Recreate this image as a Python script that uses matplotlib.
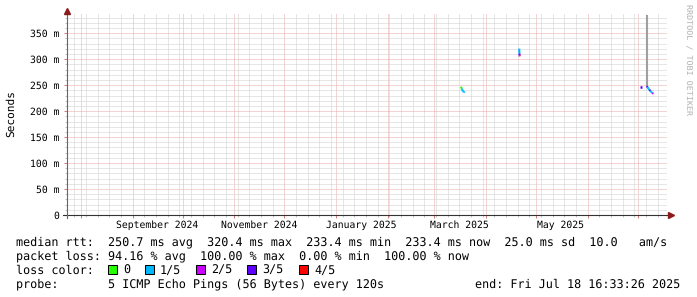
# Import libraries
import pandas as pd
import matplotlib
matplotlib.use("Agg")
import matplotlib.pyplot as plt
import matplotlib.dates as mdates
import matplotlib.transforms as mtransforms
from matplotlib.ticker import MultipleLocator, FixedLocator
from matplotlib.patches import Rectangle

# Keep glyph widths linear so the monospace lines keep their length
plt.rcParams["text.hinting"] = "no_hinting"

# Time range of the graph (last 360 days)
end_time = pd.Timestamp("2025-07-18 16:33:26")
start_time = end_time - pd.Timedelta(days=360)

# Median round trip time samples (ms), lost pings (out of 5) and burst id
rtt_times = [
    "2025-03-17 00:00", "2025-03-17 14:00", "2025-03-18 04:00",
    "2025-03-18 18:00", "2025-03-19 08:00",
    "2025-04-21 00:00", "2025-04-21 03:00", "2025-04-21 06:00", "2025-04-21 09:00",
    "2025-07-03 00:00",
    "2025-07-06 10:00", "2025-07-07 00:00", "2025-07-07 14:00", "2025-07-08 04:00",
    "2025-07-08 18:00", "2025-07-09 08:00", "2025-07-09 22:00", "2025-07-10 12:00",
]
rtt_median = [
    247.0, 243.0, 239.0, 237.0, 236.0,
    320.4, 311.0, 307.0, 305.5,
    246.0,
    248.0, 246.5, 243.0, 241.0, 239.0, 237.0, 235.0, 233.4,
]
rtt_loss = [
    0, 0, 1, 1, 1,
    1, 1, 3, 4,
    3,
    3, 3, 1, 1, 3, 1, 1, 2,
]
rtt_burst = [
    0, 0, 0, 0, 0,
    1, 1, 1, 1,
    2,
    3, 3, 3, 3, 3, 3, 3, 3,
]

# Smoke (spread of the single pings)
smoke_times = ["2025-07-06 18:00"]
smoke_low = [246.0]
smoke_high = [385.0]

# Loss colour legend
loss_labels = ["0", "1/5", "2/5", "3/5", "4/5"]
loss_colors = ["#26ff00", "#00b8ff", "#cc00ff", "#5e00ff", "#ff0000"]

# Axis labels
y_ticks = [0, 50, 100, 150, 200, 250, 300, 350]
y_tick_labels = ["0", "50 m", "100 m", "150 m", "200 m", "250 m", "300 m", "350 m"]
x_label_months = ["2024-09-01", "2024-11-01", "2025-01-01", "2025-03-01", "2025-05-01"]
x_label_texts = ["September 2024", "November 2024", "January 2025", "March 2025", "May 2025"]

# Legend text
stats_rtt = "median rtt:  250.7 ms avg  320.4 ms max  233.4 ms min  233.4 ms now  25.0 ms sd  10.0   am/s"
stats_loss = "packet loss: 94.16 % avg  100.00 % max  0.00 % min  100.00 % now"
probe_text = "probe:       5 ICMP Echo Pings (56 Bytes) every 120s"
end_text = "end: Fri Jul 18 16:33:26 2025"

mono = "DejaVu Sans Mono"
W, H = 697, 297

# Create the figure with the plot area placed like rrdtool does
fig = plt.figure(figsize=(W / 100, H / 100), dpi=100)
ax = fig.add_axes([67 / W, 1 - 215 / H, 600 / W, 202 / H])
ax.set_xlim(mdates.date2num(start_time), mdates.date2num(end_time))
ax.set_ylim(0, 389)

# Grid: weeks / 10 ms minor, months / 50 ms major
ax.xaxis.set_major_locator(mdates.MonthLocator())
ax.xaxis.set_minor_locator(mdates.WeekdayLocator(byweekday=mdates.SU))
ax.yaxis.set_major_locator(FixedLocator(y_ticks))
ax.yaxis.set_minor_locator(MultipleLocator(10))
ax.grid(which="minor", color="#cfcfcf", linestyle=(0, (1, 1)), linewidth=0.72)
ax.grid(which="major", color="#eaa8a8", linestyle=(0, (1, 1)), linewidth=0.72)
ax.set_axisbelow(True)

ax.set_xticklabels([])
ax.set_yticklabels(y_tick_labels, fontfamily=mono, fontsize=7)
ax.tick_params(axis="both", which="major", direction="out", length=2.5, width=0.75,
               color="#d08080", pad=2.8)
ax.tick_params(axis="both", which="minor", direction="out", length=1.5, width=0.75,
               color="#c4c4c4")
ax.tick_params(axis="x", which="both", labelbottom=False)
for spine in ax.spines.values():
    spine.set_visible(False)

# Month labels sit in the middle of the first half of their label period
label_trans = mtransforms.blended_transform_factory(ax.transData, ax.transAxes)
for month, text in zip(x_label_months, x_label_texts):
    pos = mdates.date2num(pd.Timestamp(month) + pd.Timedelta(days=15))
    ax.text(pos, -0.05, text, transform=label_trans, ha="center", va="center",
            fontfamily=mono, fontsize=7, color="#000000")

# Y axis title
fig.text(11 / W, 1 - 114 / H, "Seconds", rotation=90, ha="center", va="center",
         fontfamily=mono, fontsize=8)

# Smoke
ax.vlines(mdates.date2num(pd.to_datetime(smoke_times)), smoke_low, smoke_high,
          color="#a0a0a0", linewidth=1.5, zorder=3)

# Median line, coloured by packet loss
t_num = mdates.date2num(pd.to_datetime(rtt_times))
for i in range(len(t_num)):
    color = loss_colors[rtt_loss[i]]
    same_prev = i > 0 and rtt_burst[i - 1] == rtt_burst[i]
    same_next = i < len(t_num) - 1 and rtt_burst[i + 1] == rtt_burst[i]
    if same_prev:
        ax.plot([t_num[i - 1], t_num[i]], [rtt_median[i - 1], rtt_median[i]],
                color=color, linewidth=1.5, solid_capstyle="butt", zorder=4)
    elif not same_next:
        ax.plot([t_num[i] - 0.4, t_num[i] + 0.4], [rtt_median[i], rtt_median[i]],
                color=color, linewidth=1.8, solid_capstyle="butt", zorder=4)

# Axis lines with rrdtool style arrows
axis_color = "#333333"
ax.plot([-0.007, 1.003], [0, 0], transform=ax.transAxes, color=axis_color,
        linewidth=0.8, clip_on=False, zorder=5)
ax.plot([0, 0], [-0.015, 1.0], transform=ax.transAxes, color="#666666",
        linewidth=0.8, clip_on=False, zorder=5)
ax.plot(1.007, 0, marker=">", markersize=4, color="#8b1a1a", transform=ax.transAxes,
        clip_on=False, zorder=6)
ax.plot(0, 1.012, marker="^", markersize=4, color="#8b1a1a", transform=ax.transAxes,
        clip_on=False, zorder=6)

# Watermark
fig.text(688 / W, 1 - 60 / H, "RRDTOOL / TOBI OETIKER", rotation=-90, ha="center",
         va="center", fontfamily=mono, fontsize=6, color="#b0b0b0")

# Legend lines (all on a common baseline per row)
fs = 8.45
fig.text(16 / W, 1 - 245.5 / H, stats_rtt, ha="left", va="baseline", fontfamily=mono, fontsize=fs)
fig.text(16 / W, 1 - 259.5 / H, stats_loss, ha="left", va="baseline", fontfamily=mono, fontsize=fs)
fig.text(16 / W, 1 - 273.5 / H, "loss color:", ha="left", va="baseline", fontfamily=mono, fontsize=fs)
box_x = [108, 145, 196, 247, 299]
for x, label, color in zip(box_x, loss_labels, loss_colors):
    fig.patches.append(Rectangle((x / W, 1 - 273.5 / H), 9 / W, 9 / H, transform=fig.transFigure,
                                 facecolor=color, edgecolor="#000000", linewidth=0.75))
    fig.text((x + 15) / W, 1 - 273.5 / H, label, ha="left", va="baseline", fontfamily=mono, fontsize=fs)
fig.text(16 / W, 1 - 287.5 / H, probe_text, ha="left", va="baseline", fontfamily=mono, fontsize=fs)
fig.text(680 / W, 1 - 287.5 / H, end_text, ha="right", va="baseline", fontfamily=mono, fontsize=fs)

# Save the plot as a PNG file
plt.savefig("out.png", dpi=100)
